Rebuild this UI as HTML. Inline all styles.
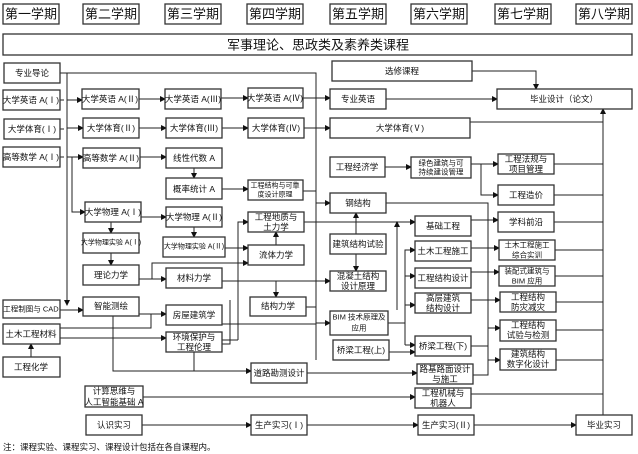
<!DOCTYPE html>
<html><head><meta charset="utf-8"><style>
html,body{margin:0;padding:0;background:#fff;}
svg{display:block;font-family:"Liberation Sans","Noto Sans CJK SC",sans-serif;}
.b{fill:#fff;stroke:#333;stroke-width:1.3;}
.t{font-size:8.5px;fill:#111;text-anchor:middle;dominant-baseline:central;}
.h{font-size:13px;fill:#111;text-anchor:middle;dominant-baseline:central;}
.l{fill:none;stroke:#222;stroke-width:1;}
</style></head><body>
<svg width="638" height="454" viewBox="0 0 638 454">
<defs><marker id="a" markerWidth="6" markerHeight="6" refX="5" refY="3" orient="auto" markerUnits="userSpaceOnUse"><path d="M0,0 L6,3 L0,6z" fill="#111"/></marker></defs>
<g>
<rect class="b" x="3" y="4" width="56" height="20"/><text class="h" x="31" y="14">第一学期</text>
<rect class="b" x="83" y="4" width="56" height="20"/><text class="h" x="111" y="14">第二学期</text>
<rect class="b" x="165" y="4" width="56" height="20"/><text class="h" x="193" y="14">第三学期</text>
<rect class="b" x="247" y="4" width="56" height="20"/><text class="h" x="275" y="14">第四学期</text>
<rect class="b" x="330" y="4" width="56" height="20"/><text class="h" x="358" y="14">第五学期</text>
<rect class="b" x="411" y="4" width="56" height="20"/><text class="h" x="439" y="14">第六学期</text>
<rect class="b" x="495" y="4" width="56" height="20"/><text class="h" x="523" y="14">第七学期</text>
<rect class="b" x="576" y="4" width="56" height="20"/><text class="h" x="604" y="14">第八学期</text>
<rect class="b" x="3" y="34" width="629" height="21"/><text class="h" x="318" y="45">军事理论、思政类及素养类课程</text>
</g>
<g class="l">
<path d="M60,73 H316 V360"/>
<path d="M316,98 H330" marker-end="url(#a)"/>
<path d="M67,73 V305" marker-end="url(#a)"/>
<path d="M67,100 H82" marker-end="url(#a)"/>
<path d="M67,128 H83" marker-end="url(#a)"/>
<path d="M67,157 H83" marker-end="url(#a)"/>
<path d="M60,100 H64"/><path d="M60,129 H64"/><path d="M60,157 H64"/>
<path d="M139,99 H165" marker-end="url(#a)"/>
<path d="M221,98 H248" marker-end="url(#a)"/>
<path d="M303,98 H316"/>
<path d="M139,128 H166" marker-end="url(#a)"/>
<path d="M222,128 H248" marker-end="url(#a)"/>
<path d="M304,128 H330" marker-end="url(#a)"/>
<path d="M470,122 H603"/>
<path d="M472,71 H536 V89" marker-end="url(#a)"/>
<path d="M386,99 H497" marker-end="url(#a)"/>
<path d="M603,415 V109" marker-end="url(#a)"/>
<path d="M140,157 H166" marker-end="url(#a)"/>
<path d="M194,167 V178" marker-end="url(#a)"/>
<path d="M222,189 H248" marker-end="url(#a)"/>
<path d="M303,191 H316"/>
<path d="M72,157 V212 H85" marker-end="url(#a)"/>
<path d="M141,217 H166" marker-end="url(#a)"/>
<path d="M111,222 V233" marker-end="url(#a)"/>
<path d="M111,253 V265" marker-end="url(#a)"/>
<path d="M194,227 V237" marker-end="url(#a)"/>
<path d="M225,248 H248" marker-end="url(#a)"/>
<path d="M276,245 V232" marker-end="url(#a)"/>
<path d="M238,340 V222 H248" marker-end="url(#a)"/>
<path d="M139,279 H166" marker-end="url(#a)"/>
<path d="M152,279 V263 H248" marker-end="url(#a)"/>
<path d="M222,281 H316"/>
<path d="M276,281 V297" marker-end="url(#a)"/>
<path d="M304,222 H316"/>
<path d="M316,203 H330" marker-end="url(#a)"/>
<path d="M356,234 V213" marker-end="url(#a)"/>
<path d="M356,254 V271" marker-end="url(#a)"/>
<path d="M316,281 H330" marker-end="url(#a)"/>
<path d="M316,222 H415" marker-end="url(#a)"/>
<path d="M397,310 V222" marker-end="url(#a)"/>
<path d="M386,203 H488 V375 H471"/>
<path d="M471,220 H498" marker-end="url(#a)"/>
<path d="M471,248 H499" marker-end="url(#a)"/>
<path d="M471,272 H499" marker-end="url(#a)"/>
<path d="M471,300 H500" marker-end="url(#a)"/>
<path d="M471,346 H488"/>
<path d="M488,328 H500" marker-end="url(#a)"/>
<path d="M488,360 H500" marker-end="url(#a)"/>
<path d="M405,345 V250 H415" marker-end="url(#a)"/>
<path d="M405,276 H415" marker-end="url(#a)"/>
<path d="M405,305 H415" marker-end="url(#a)"/>
<path d="M405,345 H415" marker-end="url(#a)"/>
<path d="M388,323 H405"/>
<path d="M389,352 H415" marker-end="url(#a)"/>
<path d="M385,167 H411" marker-end="url(#a)"/>
<path d="M471,164 H498" marker-end="url(#a)"/>
<path d="M481,164 V195 H498" marker-end="url(#a)"/>
<path d="M554,164 H603"/><path d="M554,195 H603"/><path d="M554,222 H603"/>
<path d="M555,250 H603"/><path d="M555,276 H603"/><path d="M556,302 H603"/>
<path d="M556,330 H603"/><path d="M556,360 H603"/><path d="M471,394 H603"/>
<path d="M306,307 H316"/>
<path d="M316,323 H330" marker-end="url(#a)"/>
<path d="M307,373 H417" marker-end="url(#a)"/>
<path d="M143,397 H415" marker-end="url(#a)"/>
<path d="M142,425 H251" marker-end="url(#a)"/>
<path d="M307,425 H418" marker-end="url(#a)"/>
<path d="M474,425 H576" marker-end="url(#a)"/>
<path d="M60,310 H83" marker-end="url(#a)"/>
<path d="M139,314 H166" marker-end="url(#a)"/>
<path d="M60,328 H151 V314"/>
<path d="M60,338 H166" marker-end="url(#a)"/>
<path d="M31,357 V344" marker-end="url(#a)"/>
<path d="M113,316 V371 H251" marker-end="url(#a)"/>
<path d="M194,352 V371"/>
<path d="M222,324 H316"/>
<path d="M222,340 H238"/>
<path d="M222,344 H230 V300"/>
</g>
<g>
<rect class="b" x="4" y="63" width="56" height="20"/><text class="t" x="32" y="73">专业导论</text>
<rect class="b" x="3" y="90" width="57" height="20"/><text class="t" x="31" y="100">大学英语 A(Ⅰ)</text>
<rect class="b" x="82" y="89" width="57" height="20"/><text class="t" x="110" y="99">大学英语 A(Ⅱ)</text>
<rect class="b" x="165" y="89" width="56" height="20"/><text class="t" x="193" y="99">大学英语 A(Ⅲ)</text>
<rect class="b" x="248" y="88" width="55" height="20"/><text class="t" x="275" y="98">大学英语 A(Ⅳ)</text>
<rect class="b" x="332" y="61" width="140" height="20"/><text class="t" x="402" y="71">选修课程</text>
<rect class="b" x="330" y="89" width="56" height="20"/><text class="t" x="358" y="99">专业英语</text>
<rect class="b" x="497" y="89" width="135" height="20"/><text class="t" x="564" y="99">毕业设计（论文）</text>
<rect class="b" x="4" y="119" width="56" height="20"/><text class="t" x="32" y="129">大学体育(Ⅰ)</text>
<rect class="b" x="83" y="118" width="56" height="20"/><text class="t" x="111" y="128">大学体育(Ⅱ)</text>
<rect class="b" x="166" y="118" width="56" height="20"/><text class="t" x="194" y="128">大学体育(Ⅲ)</text>
<rect class="b" x="248" y="118" width="56" height="20"/><text class="t" x="276" y="128">大学体育(Ⅳ)</text>
<rect class="b" x="330" y="118" width="140" height="20"/><text class="t" x="400" y="128">大学体育(Ⅴ)</text>
<rect class="b" x="3" y="147" width="57" height="20"/><text class="t" x="31" y="157">高等数学 A(Ⅰ)</text>
<rect class="b" x="83" y="148" width="57" height="20"/><text class="t" x="111" y="158">高等数学 A(Ⅱ)</text>
<rect class="b" x="166" y="148" width="56" height="20"/><text class="t" x="194" y="158">线性代数 A</text>
<rect class="b" x="166" y="178" width="56" height="21"/><text class="t" x="194" y="189">概率统计 A</text>
<rect class="b" x="248" y="180" width="55" height="20"/><text class="t" x="275" y="186" style="font-size:7px">工程结构与可靠</text><text class="t" x="275" y="195" style="font-size:7px">度设计原理</text>
<rect class="b" x="330" y="157" width="55" height="20"/><text class="t" x="357" y="167">工程经济学</text>
<rect class="b" x="411" y="157" width="60" height="21"/><text class="t" x="441" y="163" style="font-size:7.5px">绿色建筑与可</text><text class="t" x="441" y="172" style="font-size:7.5px">持续建设管理</text>
<rect class="b" x="498" y="154" width="56" height="20"/><text class="t" x="526" y="159">工程法规与</text><text class="t" x="526" y="169">项目管理</text>
<rect class="b" x="498" y="185" width="56" height="20"/><text class="t" x="526" y="195">工程造价</text>
<rect class="b" x="330" y="193" width="56" height="20"/><text class="t" x="358" y="203">钢结构</text>
<rect class="b" x="415" y="216" width="56" height="20"/><text class="t" x="443" y="226">基础工程</text>
<rect class="b" x="498" y="212" width="56" height="20"/><text class="t" x="526" y="222">学科前沿</text>
<rect class="b" x="85" y="202" width="56" height="20"/><text class="t" x="113" y="212">大学物理 A(Ⅰ)</text>
<rect class="b" x="166" y="207" width="56" height="20"/><text class="t" x="194" y="217">大学物理 A(Ⅱ)</text>
<rect class="b" x="248" y="212" width="56" height="20"/><text class="t" x="276" y="217">工程地质与</text><text class="t" x="276" y="227">土力学</text>
<rect class="b" x="83" y="233" width="56" height="20"/><text class="t" x="111" y="243" style="font-size:7px">大学物理实验 A(Ⅰ)</text>
<rect class="b" x="163" y="237" width="62" height="20"/><text class="t" x="194" y="247" style="font-size:7px">大学物理实验 A(Ⅱ)</text>
<rect class="b" x="248" y="245" width="56" height="20"/><text class="t" x="276" y="255">流体力学</text>
<rect class="b" x="330" y="234" width="56" height="20"/><text class="t" x="358" y="244">建筑结构试验</text>
<rect class="b" x="415" y="241" width="56" height="20"/><text class="t" x="443" y="251">土木工程施工</text>
<rect class="b" x="499" y="240" width="56" height="20"/><text class="t" x="527" y="245" style="font-size:7.5px">土木工程施工</text><text class="t" x="527" y="255" style="font-size:7.5px">综合实训</text>
<rect class="b" x="83" y="265" width="56" height="20"/><text class="t" x="111" y="275">理论力学</text>
<rect class="b" x="166" y="268" width="56" height="20"/><text class="t" x="194" y="278">材料力学</text>
<rect class="b" x="330" y="271" width="56" height="20"/><text class="t" x="358" y="276">混凝土结构</text><text class="t" x="358" y="286">设计原理</text>
<rect class="b" x="415" y="268" width="56" height="20"/><text class="t" x="443" y="278">工程结构设计</text>
<rect class="b" x="499" y="266" width="56" height="20"/><text class="t" x="527" y="271" style="font-size:7.5px">装配式建筑与</text><text class="t" x="527" y="281" style="font-size:7.5px">BIM 应用</text>
<rect class="b" x="3" y="300" width="57" height="18"/><text class="t" x="31" y="309" style="font-size:7.5px">工程制图与 CAD</text>
<rect class="b" x="83" y="297" width="56" height="19"/><text class="t" x="111" y="306">智能测绘</text>
<rect class="b" x="250" y="297" width="56" height="19"/><text class="t" x="278" y="306">结构力学</text>
<rect class="b" x="415" y="293" width="56" height="20"/><text class="t" x="443" y="298">高层建筑</text><text class="t" x="443" y="308">结构设计</text>
<rect class="b" x="500" y="292" width="56" height="20"/><text class="t" x="528" y="297">工程结构</text><text class="t" x="528" y="307">防灾减灾</text>
<rect class="b" x="166" y="305" width="56" height="20"/><text class="t" x="194" y="315">房屋建筑学</text>
<rect class="b" x="330" y="311" width="58" height="24"/><text class="t" x="359" y="317" style="font-size:7.5px">BIM 技术原理及</text><text class="t" x="359" y="328" style="font-size:7.5px">应用</text>
<rect class="b" x="500" y="320" width="56" height="21"/><text class="t" x="528" y="325">工程结构</text><text class="t" x="528" y="335">试验与检测</text>
<rect class="b" x="3" y="324" width="57" height="20"/><text class="t" x="31" y="334">土木工程材料</text>
<rect class="b" x="166" y="332" width="56" height="20"/><text class="t" x="194" y="337">环境保护与</text><text class="t" x="194" y="347">工程伦理</text>
<rect class="b" x="333" y="340" width="56" height="20"/><text class="t" x="361" y="350">桥梁工程(上)</text>
<rect class="b" x="415" y="336" width="56" height="20"/><text class="t" x="443" y="346">桥梁工程(下)</text>
<rect class="b" x="500" y="349" width="56" height="21"/><text class="t" x="528" y="354">建筑结构</text><text class="t" x="528" y="364">数字化设计</text>
<rect class="b" x="3" y="357" width="57" height="20"/><text class="t" x="31" y="367">工程化学</text>
<rect class="b" x="251" y="363" width="56" height="20"/><text class="t" x="279" y="373">道路勘测设计</text>
<rect class="b" x="417" y="364" width="56" height="20"/><text class="t" x="445" y="369">路基路面设计</text><text class="t" x="445" y="379">与施工</text>
<rect class="b" x="85" y="386" width="58" height="21"/><text class="t" x="114" y="391">计算思维与</text><text class="t" x="114" y="402">人工智能基础 A</text>
<rect class="b" x="415" y="388" width="56" height="20"/><text class="t" x="443" y="393">工程机械与</text><text class="t" x="443" y="403">机器人</text>
<rect class="b" x="86" y="415" width="56" height="20"/><text class="t" x="114" y="425">认识实习</text>
<rect class="b" x="251" y="415" width="56" height="20"/><text class="t" x="279" y="425">生产实习(Ⅰ)</text>
<rect class="b" x="418" y="415" width="56" height="20"/><text class="t" x="446" y="425">生产实习(Ⅱ)</text>
<rect class="b" x="576" y="415" width="56" height="20"/><text class="t" x="604" y="425">毕业实习</text>
</g>
<text x="3" y="447" style="font-size:8.5px;fill:#111;dominant-baseline:central">注：课程实验、课程实习、课程设计包括在各自课程内。</text>
</svg>
</body></html>
